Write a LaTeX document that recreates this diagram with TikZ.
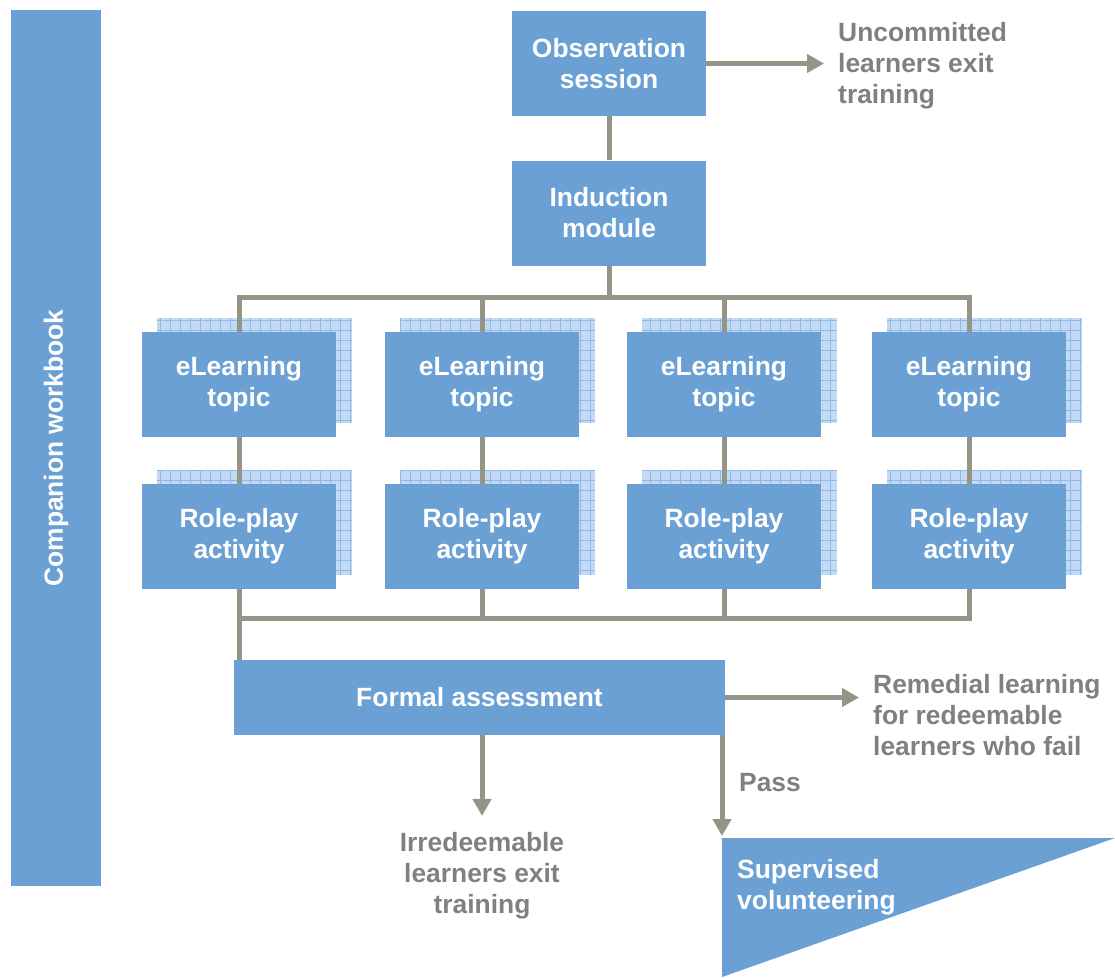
\documentclass[tikz,border=0pt]{standalone}
\usepackage{fontspec}
\setmainfont{Liberation Sans}
\definecolor{boxblue}{RGB}{107, 160, 213}
\definecolor{linegray}{RGB}{148, 148, 135}
\definecolor{labelgray}{RGB}{128, 128, 128}
\definecolor{gridfill}{RGB}{196, 218, 244}
\definecolor{gridline}{RGB}{140, 184, 234}
\usetikzlibrary{arrows.meta, positioning, calc, backgrounds}

\begin{document}
\begin{tikzpicture}[x=1pt, y=-1pt,
    every node/.style={font=\fontsize{26.4}{31}\selectfont\bfseries},
    box/.style={fill=boxblue, text=white, align=center, inner sep=0pt,
      minimum width=194pt, minimum height=105pt},
    note/.style={text=labelgray, inner sep=0pt},
    conn/.style={draw=linegray, line width=5pt},
    arr/.style={conn, -{Triangle[length=17pt, width=18pt]}}]
  \useasboundingbox (0,0) rectangle (1115,977);

  % workbook bar on the left
  \node[box, rotate=90, minimum width=876pt, minimum height=90pt] (book) at (56,448) {Companion workbook};

  % top of the flow
  \node[box] (obs) at (609,63.5) {Observation\\session};
  \node[box] (ind) at (609,213) {Induction\\module};
  \node[note, anchor=west, align=left] (quit) at (838,66) {Uncommitted\\learners exit\\training};
  \coordinate (busA) at (609,297);

  % the four topics
  \node[box] (e1) at (239,384.5) {eLearning\\topic};
  \node[box] (e2) at (482,384.5) {eLearning\\topic};
  \node[box] (e3) at (724,384.5) {eLearning\\topic};
  \node[box] (e4) at (969,384.5) {eLearning\\topic};
  \node[box] (r1) at (239,536.5) {Role-play\\activity};
  \node[box] (r2) at (482,536.5) {Role-play\\activity};
  \node[box] (r3) at (724,536.5) {Role-play\\activity};
  \node[box] (r4) at (969,536.5) {Role-play\\activity};
  \coordinate (busB) at (482,618);

  % assessment and outcomes
  \node[box, minimum width=491pt, minimum height=75pt] (fa) at (479.5,697.5) {Formal assessment};
  \node[note, anchor=west, align=left] (rem) at (873,715) {Remedial learning\\for redeemable\\learners who fail};
  \node[note, align=center] (irr) at (482,875.5) {Irredeemable\\learners exit\\training};
  \node[note] (pass) at (770,783) {Pass};
  \coordinate (sv) at (722,838);
  \fill[boxblue] (sv) -- (1115,838) -- (722,977) -- cycle;
  \node[note, text=white, anchor=west, align=left] (svtext) at (737,887) {Supervised\\volunteering};

  \begin{pgfonlayer}{background}
    % gridded cards behind the boxes
    \foreach \n in {e1,e2,e3,e4,r1,r2,r3,r4} {
      \fill[gridfill] ([shift={(15,-14)}]\n.south west) rectangle ([shift={(16,-14)}]\n.north east);
      \draw[gridline, line width=0.8pt, step=10pt]
        ([shift={(15,-14)}]\n.south west) grid ([shift={(16,-14)}]\n.north east);
    }
    % connectors
    \draw[arr, shorten >=14pt] (obs.east) -- (quit.west |- obs.east);
    \draw[conn] (obs.south) -- (ind.north);
    \draw[conn] (ind.south) -- (busA);
    \draw[conn] (e1.north) |- (busA) -| (e4.north);
    \draw[conn] (e2.north) |- (busA);
    \draw[conn] (e3.north) |- (busA);
    \foreach \i in {1,...,4}
      \draw[conn] (e\i.south) -- (r\i.north);
    \draw[conn] (r1.south) |- (busB) -| (r4.south);
    \draw[conn] (r2.south) |- (busB);
    \draw[conn] (r3.south) |- (busB);
    \draw[conn] (r1.south) -- (r1.south |- fa.north);
    \draw[arr, shorten >=14pt] (fa.east) -- (rem.west |- fa.east);
    \draw[arr, shorten >=16pt] (irr.north |- fa.south) -- (irr.north);
    \draw[arr, shorten >=2pt] (sv |- fa.south) -- (sv);
  \end{pgfonlayer}
\end{tikzpicture}
\end{document}
